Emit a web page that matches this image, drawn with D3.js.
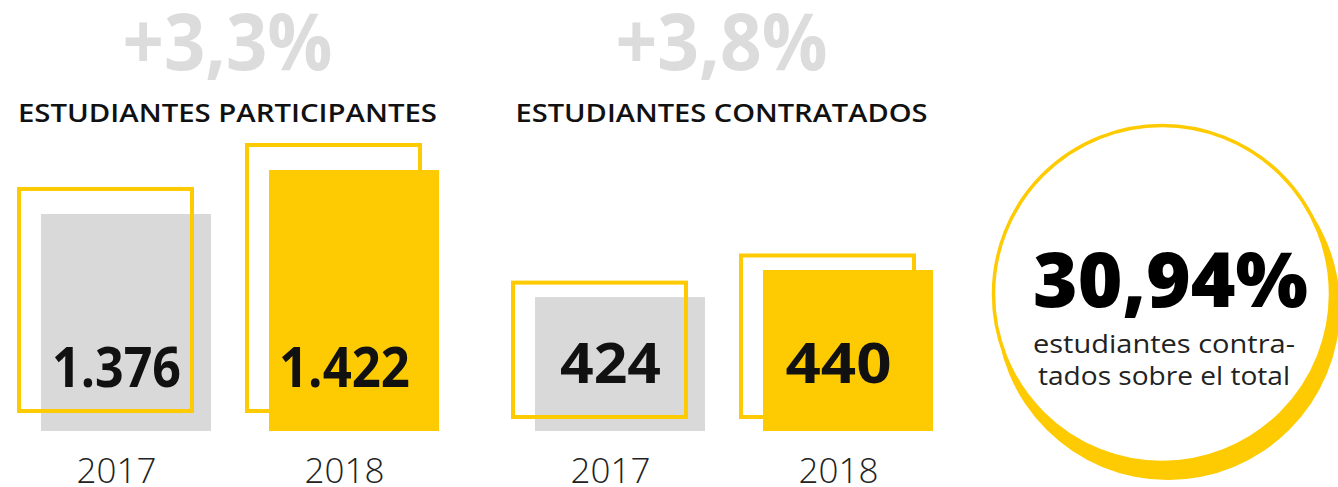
<!DOCTYPE html>
<html>
<head>
<meta charset="utf-8">
<script src="https://cdn.jsdelivr.net/npm/d3@7"></script>
<style>
  html, body { margin: 0; padding: 0; background: #ffffff; }
  svg { display: block; }
  text { font-family: "Open Sans", "Noto Sans", "DejaVu Sans", sans-serif; }
</style>
</head>
<body>
<svg id="chart" width="1338" height="487"></svg>
<script>
// ---- data ----
const years = ["2017", "2018"];
const participantes = [1376, 1422];
const contratados = [424, 440];
const growthLabels = ["+3,3%", "+3,8%"];
const groupTitles = ["ESTUDIANTES PARTICIPANTES", "ESTUDIANTES CONTRATADOS"];
const ratioValue = 30.94;
const ratioLines = ["estudiantes contra-", "tados sobre el total"];

// ---- styles (text widths emulate the original wide geometric typeface) ----
const YELLOW = "#fecb03";
const GREY = "#d9d9d9";
const growthWidths = [210, 212];
const titleWidths = [419, 412];
const valueWidths = [[129, 131], [101, 106]];
const ratioLineWidths = [262, 252];

const esLocale = d3.formatLocale({ decimal: ",", thousands: ".", grouping: [3], currency: ["", " €"] });
const fmtInt = esLocale.format(",d");
const fmtPct = esLocale.format(".2f");

const svg = d3.select("#chart");

// group layout
const groups = [
  { title: groupTitles[0], growth: growthLabels[0], values: participantes, x0: 41,
    yDomain: [1149, 1422], yRange: [431, 170], topOff: 27, botOff: 18, labelDy: -44 },
  { title: groupTitles[1], growth: growthLabels[1], values: contratados, x0: 535,
    yDomain: [345, 440], yRange: [431, 270], topOff: 16.5, botOff: 12, labelDy: -48 }
];

groups.forEach((g, gi) => {
  const x = d3.scaleBand().domain(years).range([g.x0, g.x0 + 398]).paddingInner(58 / 228).paddingOuter(0);
  const y = d3.scaleLinear().domain(g.yDomain).range(g.yRange);
  const base = y.range()[0];
  const cx = g.x0 + 199;
  const data = years.map((yr, i) => ({ year: yr, value: g.values[i], i }));
  const grp = svg.append("g");

  // growth header
  grp.append("text")
    .attr("x", cx - 12.5).attr("y", 70)
    .attr("text-anchor", "middle")
    .attr("font-size", 78).attr("font-weight", 700)
    .attr("fill", "#dcdcdc")
    .attr("textLength", growthWidths[gi]).attr("lengthAdjust", "spacingAndGlyphs")
    .text(g.growth);

  // title
  grp.append("text")
    .attr("x", cx - 12.5).attr("y", 121.5)
    .attr("text-anchor", "middle")
    .attr("font-size", 25).attr("font-weight", 600)
    .attr("fill", "#111")
    .attr("textLength", titleWidths[gi]).attr("lengthAdjust", "spacingAndGlyphs")
    .text(g.title);

  // filled bars
  grp.selectAll("rect.fill").data(data).join("rect")
    .attr("class", "fill")
    .attr("x", d => x(d.year))
    .attr("y", d => y(d.value))
    .attr("width", x.bandwidth())
    .attr("height", d => base - y(d.value))
    .attr("fill", d => d.i === 0 ? GREY : YELLOW);

  // outline frames
  grp.selectAll("rect.frame").data(data).join("rect")
    .attr("class", "frame")
    .attr("x", d => x(d.year) - 24 + 2)
    .attr("y", d => y(d.value) - g.topOff + 2)
    .attr("width", x.bandwidth() + 3)
    .attr("height", d => (base - g.botOff) - (y(d.value) - g.topOff) - 4)
    .attr("fill", "none")
    .attr("stroke", YELLOW)
    .attr("stroke-width", 4);

  // value labels
  grp.selectAll("text.val").data(data).join("text")
    .attr("class", "val")
    .attr("x", d => x(d.year) + x.bandwidth() / 2 - 9.5)
    .attr("y", base + g.labelDy)
    .attr("text-anchor", "middle")
    .attr("font-size", 55).attr("font-weight", 700)
    .attr("fill", "#111")
    .attr("textLength", d => valueWidths[gi][d.i]).attr("lengthAdjust", "spacingAndGlyphs")
    .text(d => fmtInt(d.value));

  // year labels
  grp.selectAll("text.year").data(data).join("text")
    .attr("class", "year")
    .attr("x", d => x(d.year) + x.bandwidth() / 2 - 9.5)
    .attr("y", 482.5)
    .attr("text-anchor", "middle")
    .attr("font-size", 35).attr("font-weight", 300)
    .attr("fill", "#222")
    .text(d => d.year);
});

// ---- ratio circle ----
const circ = svg.append("g");
circ.append("circle").attr("cx", 1168).attr("cy", 308).attr("r", 172).attr("fill", YELLOW);
circ.append("circle").attr("cx", 1162).attr("cy", 294).attr("r", 168.5)
  .attr("fill", "#fff").attr("stroke", YELLOW).attr("stroke-width", 3.5);
circ.append("text")
  .attr("x", 1170.5).attr("y", 307)
  .attr("text-anchor", "middle")
  .attr("font-size", 76).attr("font-weight", 800)
  .attr("fill", "#000")
  .attr("textLength", 275).attr("lengthAdjust", "spacingAndGlyphs")
  .text(fmtPct(ratioValue) + "%");
circ.selectAll("text.sub").data(ratioLines).join("text")
  .attr("class", "sub")
  .attr("x", 1164)
  .attr("y", (d, i) => 353 + i * 32)
  .attr("text-anchor", "middle")
  .attr("font-size", 25).attr("font-weight", 400)
  .attr("fill", "#222")
  .attr("textLength", (d, i) => ratioLineWidths[i]).attr("lengthAdjust", "spacingAndGlyphs")
  .text(d => d);
</script>
</body>
</html>
